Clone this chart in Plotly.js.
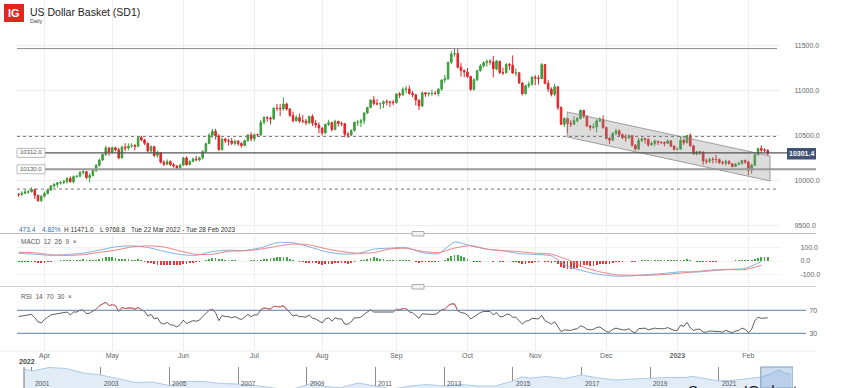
<!DOCTYPE html>
<html><head><meta charset="utf-8">
<script src="https://cdn.plot.ly/plotly-3.0.1.min.js"></script>
<style>html,body{margin:0;padding:0;background:#fff}#chart{width:856px;height:388px}</style>
</head><body><div id="chart"></div><script>
// ---- daily SD1 candles (22 Mar 2022 .. 9 Feb 2023), weekdays ----
const startDate='2022-03-22', endDate='2023-02-09';
const open=[
9850,9849,9863,9879,9880,9906,9841,9781,
9831,9861,9901,9946,9962,9979,9983,9992,10029,9992,10049,10053,10094,10104,10039,10061,10116,10173,10233,10295,10367,
10320,10370,10346,10255,10376,10366,10389,10393,10385,10485,10456,10419,10335,10381,10284,10315,10208,10186,10216,10181,10167,10142,
10176,10256,10181,10217,10243,10235,10257,10328,10415,10508,10552,10501,10348,10466,10446,10443,10418,10442,10416,10394,10446,10511,
10469,10514,10513,10652,10704,10700,10689,10807,10806,10801,10856,10799,10729,10669,10705,10665,10665,10646,10717,10643,10622,
10589,10535,10628,10648,10571,10662,10639,10636,10519,10511,10560,10652,10653,10668,10755,10816,10899,10860,10857,10859,10880,10877,10876,
10870,10967,10954,11018,11023,10972,10959,10899,10834,10980,10966,10971,10972,10971,11021,11122,11136,11319,11410,11416,11264,11226,
11212,11161,11018,11125,11225,11278,11315,11329,11324,11245,11331,11204,11202,11296,11287,11199,11202,11088,10970,11058,11075,
11153,11144,11138,11293,11085,11022,10963,11046,10816,10630,10693,10639,10631,10671,10693,10784,10720,10612,10596,10600,10668,10682,
10595,10472,10454,10531,10556,10512,10482,10481,10502,10398,10355,10450,10468,10464,10402,10416,10441,10431,10427,10419,10445,10388,
10352,10354,10452,10425,10504,10389,10301,10324,10318,10222,10219,10240,10238,10238,10205,10199,10219,10191,10162,10185,10192,10227,
10210,10120,10175,10292,10362,10342,10340];
const high=[
9866,9886,9910,9898,9930,9915,9846,9840,
9880,9905,9955,9975,9990,10000,10012,10040,10052,10061,10063,10110,10130,10110,10085,10130,10190,10250,10305,10393,10376,
10380,10380,10370,10394,10420,10419,10420,10410,10495,10500,10470,10425,10395,10390,10335,10320,10230,10240,10230,10200,10175,10192,
10268,10275,10230,10260,10280,10270,10340,10425,10530,10579,10580,10520,10480,10480,10470,10480,10460,10455,10430,10460,10520,10540,
10530,10525,10675,10720,10720,10715,10820,10856,10857,10929,10870,10810,10770,10730,10750,10735,10690,10725,10740,10680,10650,
10595,10640,10680,10660,10680,10670,10660,10645,10545,10575,10660,10680,10690,10765,10825,10905,10943,10910,10870,10895,10905,10890,10900,
10975,10990,11040,11055,11060,11000,10965,10905,10995,10990,10990,11015,11000,11030,11130,11180,11325,11445,11471,11470,11310,11240,
11255,11170,11140,11235,11300,11330,11350,11352,11390,11345,11335,11260,11310,11310,11395,11250,11210,11100,11070,11105,11165,
11175,11175,11310,11300,11120,11040,11080,11055,10830,10710,10700,10680,10720,10710,10795,10790,10730,10620,10640,10685,10710,10730,
10600,10490,10540,10580,10575,10530,10520,10520,10510,10410,10480,10485,10480,10470,10440,10460,10445,10440,10440,10460,10455,10395,
10370,10490,10470,10512,10530,10400,10335,10335,10330,10250,10260,10265,10290,10250,10225,10235,10230,10200,10200,10215,10235,10240,
10225,10190,10300,10370,10396,10365,10352];
const low=[
9822,9833,9855,9856,9872,9800,9769,9770,
9815,9850,9890,9921,9930,9960,9965,9970,9980,9975,10035,10040,10070,10020,9982,10050,10100,10160,10220,10280,10280,
10305,10330,10240,10250,10330,10340,10370,10340,10380,10440,10400,10320,10310,10265,10260,10195,10165,10175,10165,10148,10130,10130,
10170,10170,10175,10210,10220,10218,10240,10310,10410,10475,10460,10335,10340,10420,10395,10400,10395,10390,10370,10385,10440,10440,
10440,10490,10500,10630,10660,10630,10680,10775,10720,10780,10780,10710,10650,10660,10645,10640,10620,10630,10610,10590,10530,
10505,10520,10610,10550,10565,10605,10610,10485,10480,10500,10550,10610,10600,10630,10745,10810,10840,10840,10800,10810,10840,10820,10840,
10860,10920,10950,10975,10960,10930,10840,10788,10820,10935,10940,10945,10955,10940,11000,11090,11120,11300,11380,11250,11160,11152,
11145,11000,11005,11110,11215,11260,11270,11290,11150,11230,11190,11175,11195,11235,11190,11165,11080,10950,10960,11030,11060,
11065,11072,11130,11075,10990,10940,10940,10790,10620,10600,10534,10600,10620,10650,10685,10700,10600,10560,10580,10540,10655,10580,
10460,10412,10440,10510,10500,10465,10435,10465,10380,10340,10340,10430,10415,10380,10390,10385,10400,10410,10385,10410,10375,10340,
10340,10350,10400,10420,10385,10293,10285,10290,10180,10190,10200,10195,10200,10190,10180,10170,10185,10150,10155,10175,10185,10190,
10065,10080,10170,10285,10310,10320,10280];
const close=[
9849,9863,9879,9880,9906,9841,9781,9831,
9861,9901,9946,9962,9979,9983,9992,10029,9992,10049,10053,10094,10104,10039,10061,10116,10173,10233,10295,10367,10320,
10370,10346,10255,10376,10366,10389,10393,10385,10485,10456,10419,10335,10381,10284,10315,10208,10186,10216,10181,10167,10142,10176,
10256,10181,10217,10243,10235,10257,10328,10415,10508,10552,10501,10348,10466,10446,10443,10418,10442,10416,10394,10446,10511,10469,
10514,10513,10652,10704,10700,10689,10807,10806,10801,10856,10799,10729,10669,10705,10665,10665,10646,10717,10643,10622,10589,
10535,10628,10648,10571,10662,10639,10636,10519,10511,10560,10652,10653,10668,10755,10816,10899,10860,10857,10859,10880,10877,10876,10870,
10967,10954,11018,11023,10972,10959,10899,10834,10980,10966,10971,10972,10971,11021,11122,11136,11319,11410,11416,11264,11226,11212,
11161,11018,11125,11225,11278,11315,11329,11324,11245,11331,11204,11202,11296,11287,11199,11202,11088,10970,11058,11075,11153,
11144,11138,11293,11085,11022,10963,11046,10816,10630,10693,10639,10631,10671,10693,10784,10720,10612,10596,10600,10668,10682,10595,
10472,10454,10531,10556,10512,10482,10481,10502,10398,10355,10450,10468,10464,10402,10416,10441,10431,10427,10419,10445,10388,10352,
10354,10452,10425,10504,10389,10301,10324,10318,10222,10219,10240,10238,10238,10205,10199,10219,10191,10162,10185,10192,10227,10210,
10120,10175,10292,10362,10342,10340,10301.4];

// ---- MACD(12,26,9): lines read every 5th session, histogram daily ----
const macdLine=[57,50,42,48,58,80,105,112,100,72,48,42,70,80,78,98,135,135,105,70,52,55,88,95,100,62,55,140,112,88,75,55,48,38,-40,-75,-100,-112,-110,-100,-92,-80,-82,-72,-62,-55,-5];
const signalLine=[65,61,46,41,47,64,80,104,112,104,74,49,50,72,75,88,109,125,119,92,70,57,62,89,94,72,61,96,114,88,77,69,58,50,10,-45,-80,-102,-106,-106,-100,-90,-78,-66,-64,-63,-32];
const macdHist=[
-8,-9,-10,-10,-9,-11,-13,-14,-12,
-8,-4,0,3,5,6,7,7,8,10,11,12,10,8,9,11,
16,21,27,28,26,25,
18,16,14,12,10,8,12,10,
-4,-12,-16,-22,-26,-30,-32,-32,-31,-30,-28,-26,-22,
-20,-18,-14,-10,-7,-2,5,
14,20,22,15,14,11,8,6,
4,2,0,1,3,5,5,4,
10,14,18,22,22,26,28,30,26,18,
10,2,-4,-8,-12,-14,-14,-18,-22,
-26,-22,-20,-22,-18,-16,-14,-18,-20,-16,-8,
-2,4,10,18,24,26,22,18,14,10,6,4,
8,8,10,10,6,2,-4,-12,
-10,-10,-10,-9,-9,-6,2,8,
20,34,44,46,38,28,
16,-2,-8,-6,-4,-2,0,0,
-4,-2,-6,-6,-2,-2,-8,-8,-14,-24,-22,-18,-12,
-10,-10,0,-6,-8,-12,-10,
-24,-42,-52,-56,-58,-58,-54,-44,-32,-30,-34,-34,-30,-20,-20,
-24,-24,-18,-10,-6,-4,-2,0,-4,-6,2,4,6,6,
6,8,8,8,8,8,6,6,6,10,10,14,6,
0,-4,-6,-8,-8,-8,-6,-4,-2,0,2,2,2,4,6,8,8,
4,10,18,24,26,27,28];
// ---- RSI(14), daily ----
const rsi=[
59,60,61,61,63,57,50,48,
54,58,62,63,64,65,65,67,62,67,67,70,70,64,65,68,72,78,81,84,78,
80,78,68,75,73,74,74,72,75,71,68,60,63,55,57,48,46,49,45,44,41,45,
53,47,50,52,51,53,59,65,70,72,66,52,61,59,59,57,59,56,54,58,63,59,
62,62,71,74,73,72,77,77,76,78,72,65,60,62,59,59,58,62,56,55,52,
48,55,57,51,57,55,55,46,46,50,57,57,58,63,67,71,67,67,67,68,68,68,67,
72,71,73,73,67,66,61,56,64,63,63,63,63,66,71,72,78,81,81,69,66,65,
62,55,59,63,66,68,68,68,62,66,59,59,63,63,58,58,52,46,51,52,56,
55,55,61,52,49,46,50,41,33,36,35,35,37,38,43,41,37,36,37,40,41,37,
33,32,37,39,37,36,36,38,33,31,38,39,39,36,37,39,38,38,38,40,37,35,
35,44,42,49,40,35,37,37,32,32,34,34,34,33,32,35,33,31,34,35,39,37,
31,37,52,58,56,56,57];

// ---- level lines / channel ----
const levelHigh=11471, levelDot1=10495, levelA=10312, levelB=10130, levelDot2=9910;
const channelX=['2022-11-14 21:00','2023-02-09 17:00','2023-02-09 17:00','2022-11-14 21:00','2022-11-14 21:00'];
const channelY=[10767,10278,10000,10489,10767];

// ---- navigator (long history) ----
const navDates=['2000-10-08','2001-01-01','2001-07-01','2002-01-01','2002-07-01','2003-01-01','2003-07-01','2004-01-01','2004-07-01','2005-01-01','2005-07-01','2006-01-01','2006-07-01','2007-01-01','2007-07-01','2008-01-01','2008-07-01','2009-01-01','2009-04-01','2009-07-01','2010-01-01','2010-07-01','2011-01-01','2011-07-01','2012-01-01','2012-07-01','2013-01-01','2013-07-01','2014-01-01','2014-07-01','2015-01-01','2015-04-01','2015-07-01','2016-01-01','2016-07-01','2017-01-01','2017-07-01','2018-01-01','2018-07-01','2019-01-01','2019-07-01','2020-01-01','2020-04-01','2020-07-01','2021-01-01','2021-07-01','2022-01-01','2022-04-01','2022-07-01','2022-10-01','2022-12-01','2023-02-09'];
const navValues=[114,110,117,115,106,102,95,87,88,81,89,89,85,84,81,76,72,82,88,79,77,86,79,74,80,83,80,83,80,80,90,98,96,99,95,102,96,92,94,96,97,97,99,96,90,92,96,98,104,112,106,103];
const navYears=['2001','2003','2005','2007','2009','2011','2013','2015','2017','2019','2021'];

const monthTicks=['2022-04-01','2022-05-02','2022-06-01','2022-07-01','2022-08-01','2022-09-01','2022-10-03','2022-11-01','2022-12-01','2023-01-02','2023-02-01'];
const monthLabels=['Apr','May','Jun','Jul','Aug','Sep','Oct','Nov','Dec','<b>2023</b>','Feb'];

function weekdays(s,e){const out=[];let d=new Date(s+'T00:00:00Z');const end=new Date(e+'T00:00:00Z');
 while(d<=end){const w=d.getUTCDay();if(w!==0&&w!==6)out.push(d.toISOString().slice(0,10));d=new Date(d.getTime()+86400000);}return out;}
const dates=weekdays(startDate,endDate);
const sDates=dates.filter((d,i)=>i%5===0);

const GREEN='#3d9e3d', RED='#e2262a';
const W=856,H=388;
const px=v=>v/W, py=v=>1-v/H;
const FF='Liberation Sans, Arial, sans-serif';

const traces=[
 {type:'scatter',x:channelX,y:channelY,xaxis:'x',yaxis:'y',mode:'lines',fill:'toself',fillcolor:'rgba(140,140,140,0.3)',line:{color:'#8a8a8a',width:0.8},hoverinfo:'skip'},
 {type:'candlestick',x:dates,open:open,high:high,low:low,close:close,xaxis:'x',yaxis:'y',whiskerwidth:0,
  increasing:{line:{color:GREEN,width:1},fillcolor:GREEN},decreasing:{line:{color:RED,width:1},fillcolor:RED},hoverinfo:'skip'},
 {type:'bar',x:dates,y:macdHist,xaxis:'x',yaxis:'y2',marker:{color:macdHist.map(v=>v>=0?'#43a843':'#e53935'),line:{width:0}},width:0.55*86400000,hoverinfo:'skip'},
 {type:'scatter',mode:'lines',x:sDates,y:macdLine,xaxis:'x',yaxis:'y2',line:{color:'#7fb0e3',width:1,shape:'spline',smoothing:0.6},hoverinfo:'skip'},
 {type:'scatter',mode:'lines',x:sDates,y:signalLine,xaxis:'x',yaxis:'y2',line:{color:'#f07f7f',width:1,shape:'spline',smoothing:0.6},hoverinfo:'skip'},
 {type:'scatter',mode:'lines',x:dates,y:rsi,xaxis:'x',yaxis:'y3',line:{color:'#333',width:0.8},hoverinfo:'skip'},
 {type:'scatter',mode:'lines',x:dates,y:rsi,xaxis:'x',yaxis:'y4',line:{color:'#f06868',width:0.9},hoverinfo:'skip'},
 {type:'scatter',mode:'lines',x:navDates,y:navValues,xaxis:'x2',yaxis:'y5',fill:'tozeroy',fillcolor:'#e2ecf7',line:{color:'#9cbfe2',width:0.8},hoverinfo:'skip'}
];

const axisFont={size:7,color:'#666',family:FF};
const layout={
 width:W,height:H,margin:{l:0,r:0,t:0,b:0},paper_bgcolor:'#fff',plot_bgcolor:'rgba(0,0,0,0)',showlegend:false,
 font:{family:FF,size:7,color:'#666'},bargap:0,
 xaxis:{domain:[px(17),px(780)],anchor:'y3',type:'date',range:['2022-03-21 12:00','2023-02-14 19:00'],rangebreaks:[{bounds:['sat','mon']}],
  tickvals:monthTicks,ticktext:monthLabels,tickfont:axisFont,showgrid:true,gridcolor:'#eeeeee',zeroline:false,showline:false,ticks:'',
  rangeslider:{visible:false},fixedrange:true},
 yaxis:{domain:[py(232),1],range:[9433,12011],side:'right',anchor:'x',tickvals:[9500,10000,10500,11000,11500],ticktext:['9500.0','10000.0','10500.0','11000.0','11500.0'],
  tickfont:axisFont,showgrid:true,gridcolor:'#eeeeee',zeroline:false,ticks:'outside',ticklen:12,tickcolor:'rgba(0,0,0,0)',fixedrange:true},
 yaxis2:{domain:[py(285),py(235)],range:[-177.8,192.6],side:'right',anchor:'x',tickvals:[100,0,-100],ticktext:['100.0','0.0','-100.0'],
  tickfont:axisFont,showgrid:true,gridcolor:'#f2f2f2',zeroline:false,ticks:'outside',ticklen:18,tickcolor:'rgba(0,0,0,0)',fixedrange:true},
 yaxis3:{domain:[py(350),py(289)],range:[1,107],side:'right',anchor:'x',tickvals:[70,30],ticktext:['70','30'],
  tickfont:axisFont,showgrid:false,zeroline:false,ticks:'outside',ticklen:27,tickcolor:'rgba(0,0,0,0)',fixedrange:true},
 yaxis4:{domain:[py(310.3),py(289)],range:[70,107],anchor:'x',visible:false,fixedrange:true},
 xaxis2:{domain:[px(24),px(793)],anchor:'y5',type:'date',range:['2000-10-08','2023-02-28'],tickvals:navYears.map(y=>y+'-01-01'),showticklabels:false,
  showgrid:true,gridcolor:'#8c8c8c',gridwidth:1,zeroline:false,ticks:'',fixedrange:true},
 yaxis5:{domain:[0,py(367)],range:[76,118],visible:false,fixedrange:true},
 shapes:[
  {type:'rect',xref:'paper',yref:'paper',x0:px(4),x1:px(24),y0:py(22),y1:py(4),fillcolor:'#e0261f',line:{width:0}},
  {type:'line',xref:'paper',yref:'y',x0:px(17),x1:px(777),y0:levelHigh,y1:levelHigh,line:{color:'#8a8a8a',width:1}},
  {type:'line',xref:'paper',yref:'y',x0:px(17),x1:px(777),y0:levelDot1,y1:levelDot1,line:{color:'#777',width:1,dash:'dot'}},
  {type:'line',xref:'paper',yref:'y',x0:px(45),x1:px(787),y0:levelA,y1:levelA,line:{color:'#555',width:1.2}},
  {type:'line',xref:'paper',yref:'y',x0:px(45),x1:px(816),y0:levelB,y1:levelB,line:{color:'#9a9a9a',width:2}},
  {type:'line',xref:'paper',yref:'y',x0:px(17),x1:px(777),y0:levelDot2,y1:levelDot2,line:{color:'#777',width:1,dash:'dot'}},
  {type:'rect',xref:'paper',yref:'y',x0:px(17),x1:px(45),y0:levelA-50,y1:levelA+50,fillcolor:'#fff',line:{color:'#aaa',width:0.8}},
  {type:'rect',xref:'paper',yref:'y',x0:px(17),x1:px(45),y0:levelB-50,y1:levelB+50,fillcolor:'#fff',line:{color:'#aaa',width:0.8}},
  {type:'rect',xref:'paper',yref:'paper',x0:px(787),x1:px(816),y0:py(159.5),y1:py(148),fillcolor:'#3f5273',line:{width:0}},
  {type:'line',xref:'paper',yref:'paper',x0:0,x1:px(816),y0:py(233.5),y1:py(233.5),line:{color:'#bdbdbd',width:1}},
  {type:'line',xref:'paper',yref:'paper',x0:0,x1:px(816),y0:py(286.5),y1:py(286.5),line:{color:'#d0d0d0',width:1}},
  {type:'line',xref:'paper',yref:'paper',x0:0,x1:px(816),y0:py(351),y1:py(351),line:{color:'#eeeeee',width:1}},
  {type:'rect',xref:'paper',yref:'paper',x0:px(412),x1:px(424),y0:py(236),y1:py(231.5),fillcolor:'#f4f4f4',line:{color:'#999',width:0.8}},
  {type:'rect',xref:'paper',yref:'paper',x0:px(412),x1:px(424),y0:py(289),y1:py(284.5),fillcolor:'#f4f4f4',line:{color:'#999',width:0.8}},
  {type:'line',xref:'paper',yref:'y3',x0:px(17),x1:px(806),y0:70,y1:70,line:{color:'#5d7fa5',width:1}},
  {type:'line',xref:'paper',yref:'y3',x0:px(17),x1:px(806),y0:30,y1:30,line:{color:'#5d7fa5',width:1}},
  {type:'line',xref:'paper',yref:'paper',x0:px(24),x1:px(24),y0:0,y1:py(367),line:{color:'#777',width:1}},
  {type:'rect',xref:'x2',yref:'paper',x0:'2022-03-22',x1:'2023-02-28',y0:0,y1:py(367),fillcolor:'rgba(110,155,210,0.35)',line:{color:'#7e9dbd',width:1}}
 ],
 annotations:[]
};
const A=layout.annotations;
function txt(t,x,y,o){A.push(Object.assign({text:t,xref:'paper',yref:'paper',x:px(x),y:py(y),xanchor:'left',yanchor:'middle',showarrow:false,
 font:{size:6.5,color:'#555',family:FF}},o||{}));}
txt('<b>IG</b>',14,13.5,{xanchor:'center',font:{size:11,color:'#fff',family:FF}});
txt('US Dollar Basket (SD1)',28,11.5,{font:{size:10.5,color:'#222',family:FF}});
txt('Daily',28,21,{font:{size:5.5,color:'#444',family:FF}});
txt('473.4',17,229.5,{font:{size:6.5,color:'#2f6fae',family:FF}});
txt('4.82%',40,229.5,{font:{size:6.5,color:'#2f6fae',family:FF}});
txt('H 11471.0',62,229.5,{font:{size:6.5,color:'#333',family:FF}});
txt('L 9768.8',98,229.5,{font:{size:6.5,color:'#333',family:FF}});
txt('Tue 22 Mar 2022 - Tue 28 Feb 2023',129,229.5,{font:{size:6.5,color:'#333',family:FF}});
txt('MACD  12  26  9  \u00d7',19,241.5,{font:{size:6.5,color:'#555',family:FF}});
txt('RSI  14  70  30  \u00d7',19,296,{font:{size:6.5,color:'#555',family:FF}});
txt('<b>2022</b>',17,361,{font:{size:7,color:'#444',family:FF}});
txt('10312.0',31,152.5,{xanchor:'center',font:{size:6,color:'#555',family:FF}});
txt('10130.0',31,168.8,{xanchor:'center',font:{size:6,color:'#555',family:FF}});
txt('<b>10301.4</b>',801.5,153.8,{xanchor:'center',font:{size:7,color:'#fff',family:FF}});
navYears.forEach(y=>A.push({text:y,xref:'x2',yref:'paper',x:y+'-01-01',y:py(383.5),xanchor:'left',yanchor:'middle',xshift:1,showarrow:false,
 font:{size:6.5,color:'#555',family:FF}}));
txt('Source: IG charts',686,380,{yanchor:'top',font:{size:15,color:'#1a1a1a',family:FF}});

Plotly.newPlot('chart',traces,layout,{staticPlot:true,displayModeBar:false});
</script></body></html>
